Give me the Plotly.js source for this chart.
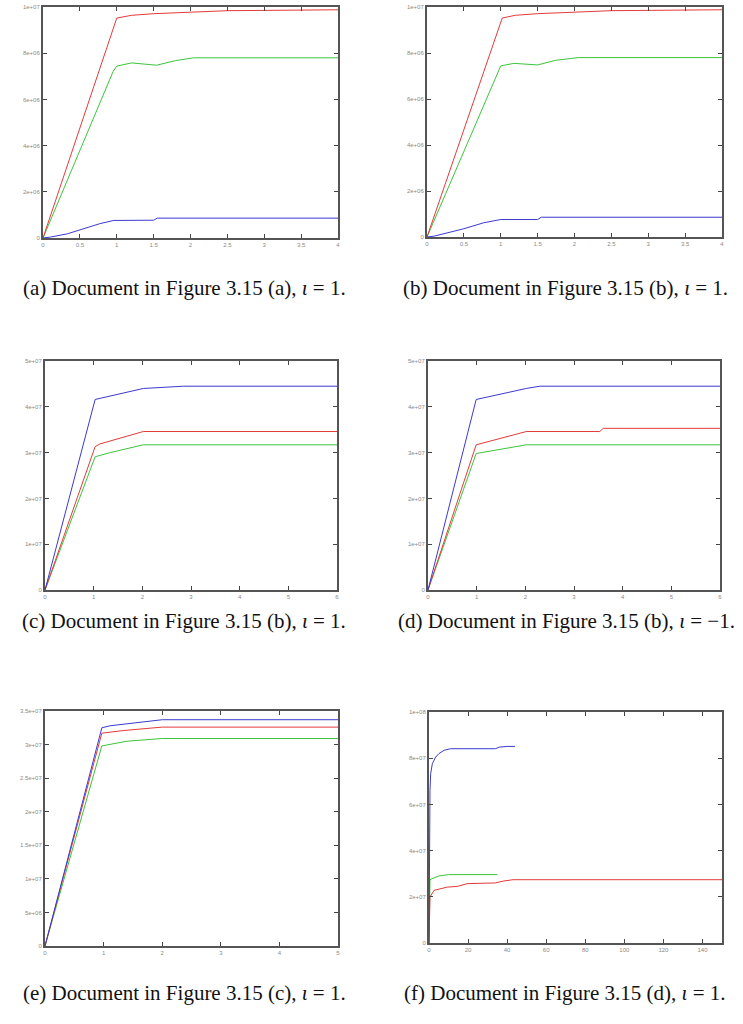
<!DOCTYPE html>
<html>
<head>
<meta charset="utf-8">
<script src="https://cdn.plot.ly/plotly-3.0.1.min.js"></script>
<style>html,body{margin:0;padding:0;background:#fff;}#chart{width:743px;height:1024px;}</style>
</head>
<body>
<div id="chart"></div>
<script>
// ---------- Data ----------
// Panel (a)
const aRedX = [0, 1, 1.2, 1.5, 2.5, 4];
const aRedY = [0, 9.52e6, 9.64e6, 9.71e6, 9.84e6, 9.88e6];
const aGreenX = [0, 0.95, 1, 1.2, 1.54, 1.8, 2.04, 4];
const aGreenY = [0, 7.2e6, 7.44e6, 7.58e6, 7.48e6, 7.68e6, 7.8e6, 7.8e6];
const aBlueX = [0, 0.1, 0.33, 0.5, 0.77, 0.96, 1.5, 1.55, 4];
const aBlueY = [0, 4e4, 1.8e5, 3.6e5, 6.2e5, 7.6e5, 7.7e5, 8.6e5, 8.6e5];
// Panel (b)
const bRedX = [0, 1.02, 1.2, 1.5, 2.5, 4];
const bRedY = [0, 9.52e6, 9.64e6, 9.71e6, 9.84e6, 9.88e6];
const bGreenX = [0, 0.97, 1, 1.18, 1.5, 1.74, 2.05, 4];
const bGreenY = [0, 7.2e6, 7.44e6, 7.55e6, 7.48e6, 7.68e6, 7.8e6, 7.8e6];
const bBlueX = [0, 0.1, 0.5, 0.77, 1, 1.5, 1.55, 4];
const bBlueY = [0, 4e4, 3.6e5, 6.2e5, 7.6e5, 7.6e5, 8.6e5, 8.6e5];
// Panel (c)
const cRedX = [0, 1.03, 1.13, 2.02, 6];
const cRedY = [0, 3.13e7, 3.19e7, 3.46e7, 3.46e7];
const cGreenX = [0, 1.03, 1.34, 2.02, 6];
const cGreenY = [0, 2.91e7, 3.0e7, 3.17e7, 3.17e7];
const cBlueX = [0, 1.03, 2.02, 2.85, 6];
const cBlueY = [0, 4.16e7, 4.40e7, 4.45e7, 4.45e7];
// Panel (d)
const dRedX = [0, 0.99, 2.02, 3.53, 3.6, 6];
const dRedY = [0, 3.17e7, 3.46e7, 3.46e7, 3.53e7, 3.53e7];
const dGreenX = [0, 0.99, 2.02, 6];
const dGreenY = [0, 2.98e7, 3.17e7, 3.17e7];
const dBlueX = [0, 0.99, 2.02, 2.3, 6];
const dBlueY = [0, 4.16e7, 4.40e7, 4.45e7, 4.45e7];
// Panel (e)
const eRedX = [0, 0.97, 1.35, 2.0, 5];
const eRedY = [0, 3.17e7, 3.21e7, 3.26e7, 3.26e7];
const eGreenX = [0, 0.97, 1.4, 2.0, 5];
const eGreenY = [0, 2.98e7, 3.05e7, 3.09e7, 3.09e7];
const eBlueX = [0, 0.97, 1.11, 2.0, 5];
const eBlueY = [0, 3.25e7, 3.28e7, 3.37e7, 3.37e7];
// Panel (f)
const fRedX = [0, 0.5, 2.6, 9.4, 14.5, 19.6, 34, 38, 43, 150];
const fRedY = [0, 1.99e7, 2.28e7, 2.42e7, 2.45e7, 2.57e7, 2.6e7, 2.68e7, 2.74e7, 2.74e7];
const fGreenX = [0, 0.5, 2, 5, 10, 35];
const fGreenY = [0, 2.74e7, 2.8e7, 2.9e7, 2.96e7, 2.96e7];
const fBlueX = [0, 0.3, 0.5, 0.85, 1.7, 3.4, 5.1, 7.7, 11, 34, 36, 40, 44];
const fBlueY = [0, 6.0e7, 6.6e7, 7.33e7, 7.76e7, 8.05e7, 8.2e7, 8.34e7, 8.41e7, 8.41e7, 8.48e7, 8.51e7, 8.51e7];

// Tick labels
const xTicksAB = [0, 0.5, 1, 1.5, 2, 2.5, 3, 3.5, 4];
const xTickTextAB = ["0", "0.5", "1", "1.5", "2", "2.5", "3", "3.5", "4"];
const yTicksAB = [0, 2e6, 4e6, 6e6, 8e6, 1e7];
const yTickTextAB = ["0", "2e+06", "4e+06", "6e+06", "8e+06", "1e+07"];
const xTicksCD = [0, 1, 2, 3, 4, 5, 6];
const xTickTextCD = ["0", "1", "2", "3", "4", "5", "6"];
const yTicksCD = [0, 1e7, 2e7, 3e7, 4e7, 5e7];
const yTickTextCD = ["0", "1e+07", "2e+07", "3e+07", "4e+07", "5e+07"];
const xTicksE = [0, 1, 2, 3, 4, 5];
const xTickTextE = ["0", "1", "2", "3", "4", "5"];
const yTicksE = [0, 5e6, 1e7, 1.5e7, 2e7, 2.5e7, 3e7, 3.5e7];
const yTickTextE = ["0", "5e+06", "1e+07", "1.5e+07", "2e+07", "2.5e+07", "3e+07", "3.5e+07"];
const xTicksF = [0, 20, 40, 60, 80, 100, 120, 140];
const xTickTextF = ["0", "20", "40", "60", "80", "100", "120", "140"];
const yTicksF = [0, 2e7, 4e7, 6e7, 8e7, 1e8];
const yTickTextF = ["0", "2e+07", "4e+07", "6e+07", "8e+07", "1e+08"];

const captions = [
  "(a) Document in Figure 3.15 (a), <i>ι</i> = 1.",
  "(b) Document in Figure 3.15 (b), <i>ι</i> = 1.",
  "(c) Document in Figure 3.15 (b), <i>ι</i> = 1.",
  "(d) Document in Figure 3.15 (b), <i>ι</i> = −1.",
  "(e) Document in Figure 3.15 (c), <i>ι</i> = 1.",
  "(f) Document in Figure 3.15 (d), <i>ι</i> = 1."
];

// ---------- Layout helpers ----------
const W = 743, H = 1024;
const RED = "#e23a3a", GREEN = "#3cc43c", BLUE = "#3a3ad0";

const panels = [
  {rx: aRedX, ry: aRedY, gx: aGreenX, gy: aGreenY, bx: aBlueX, by: aBlueY,
   box: [43, 338, 7, 238], xr: [0, 4], yr: [0, 1e7], xt: xTicksAB, xtt: xTickTextAB, yt: yTicksAB, ytt: yTickTextAB},
  {rx: bRedX, ry: bRedY, gx: bGreenX, gy: bGreenY, bx: bBlueX, by: bBlueY,
   box: [427, 722, 7, 237], xr: [0, 4], yr: [0, 1e7], xt: xTicksAB, xtt: xTickTextAB, yt: yTicksAB, ytt: yTickTextAB},
  {rx: cRedX, ry: cRedY, gx: cGreenX, gy: cGreenY, bx: cBlueX, by: cBlueY,
   box: [45, 337, 361, 590], xr: [0, 6], yr: [0, 5e7], xt: xTicksCD, xtt: xTickTextCD, yt: yTicksCD, ytt: yTickTextCD},
  {rx: dRedX, ry: dRedY, gx: dGreenX, gy: dGreenY, bx: dBlueX, by: dBlueY,
   box: [428, 720, 361, 590], xr: [0, 6], yr: [0, 5e7], xt: xTicksCD, xtt: xTickTextCD, yt: yTicksCD, ytt: yTickTextCD},
  {rx: eRedX, ry: eRedY, gx: eGreenX, gy: eGreenY, bx: eBlueX, by: eBlueY,
   box: [45, 338, 711, 946], xr: [0, 5], yr: [0, 3.5e7], xt: xTicksE, xtt: xTickTextE, yt: yTicksE, ytt: yTickTextE},
  {rx: fRedX, ry: fRedY, gx: fGreenX, gy: fGreenY, bx: fBlueX, by: fBlueY,
   box: [429, 722, 712, 943], xr: [0, 150], yr: [0, 1e8], xt: xTicksF, xtt: xTickTextF, yt: yTicksF, ytt: yTickTextF}
];
const captionPos = [[184, 288], [565, 288], [184, 621], [566, 621], [184, 993], [565, 993]];

const traces = [];
const layout = {
  width: W, height: H,
  margin: {l: 0, r: 0, t: 0, b: 0},
  paper_bgcolor: "#fff", plot_bgcolor: "#fff",
  showlegend: false,
  annotations: []
};

panels.forEach((p, i) => {
  const n = i + 1;
  const xa = n === 1 ? "x" : "x" + n;
  const ya = n === 1 ? "y" : "y" + n;
  const xk = n === 1 ? "xaxis" : "xaxis" + n;
  const yk = n === 1 ? "yaxis" : "yaxis" + n;
  [[p.gx, p.gy, GREEN], [p.rx, p.ry, RED], [p.bx, p.by, BLUE]].forEach(s => {
    traces.push({x: s[0], y: s[1], type: "scatter", mode: "lines", xaxis: xa, yaxis: ya,
      line: {color: s[2], width: 1}, hoverinfo: "skip"});
  });
  const [l, r, t, b] = p.box;
  const common = {
    showline: true, linecolor: "#555", linewidth: 2, mirror: "ticks",
    ticks: "inside", ticklen: 4, tickcolor: "#444", tickwidth: 1,
    showgrid: false, zeroline: false, tickmode: "array",
    tickfont: {family: "Liberation Sans", size: 6, color: "#8a8a8a"}
  };
  layout[xk] = Object.assign({}, common, {
    domain: [l / W, r / W], range: p.xr, anchor: ya,
    tickvals: p.xt, ticktext: p.xtt
  });
  layout[yk] = Object.assign({}, common, {
    domain: [1 - b / H, 1 - t / H], range: p.yr, anchor: xa,
    tickvals: p.yt, ticktext: p.ytt
  });
  layout.annotations.push({
    text: captions[i], xref: "paper", yref: "paper",
    x: captionPos[i][0] / W, y: 1 - captionPos[i][1] / H,
    xanchor: "center", yanchor: "middle", showarrow: false,
    font: {family: "'Liberation Serif', 'DejaVu Serif', serif", size: 21, color: "#111"}
  });
});

Plotly.newPlot("chart", traces, layout, {displayModeBar: false, staticPlot: true});
</script>
</body>
</html>
